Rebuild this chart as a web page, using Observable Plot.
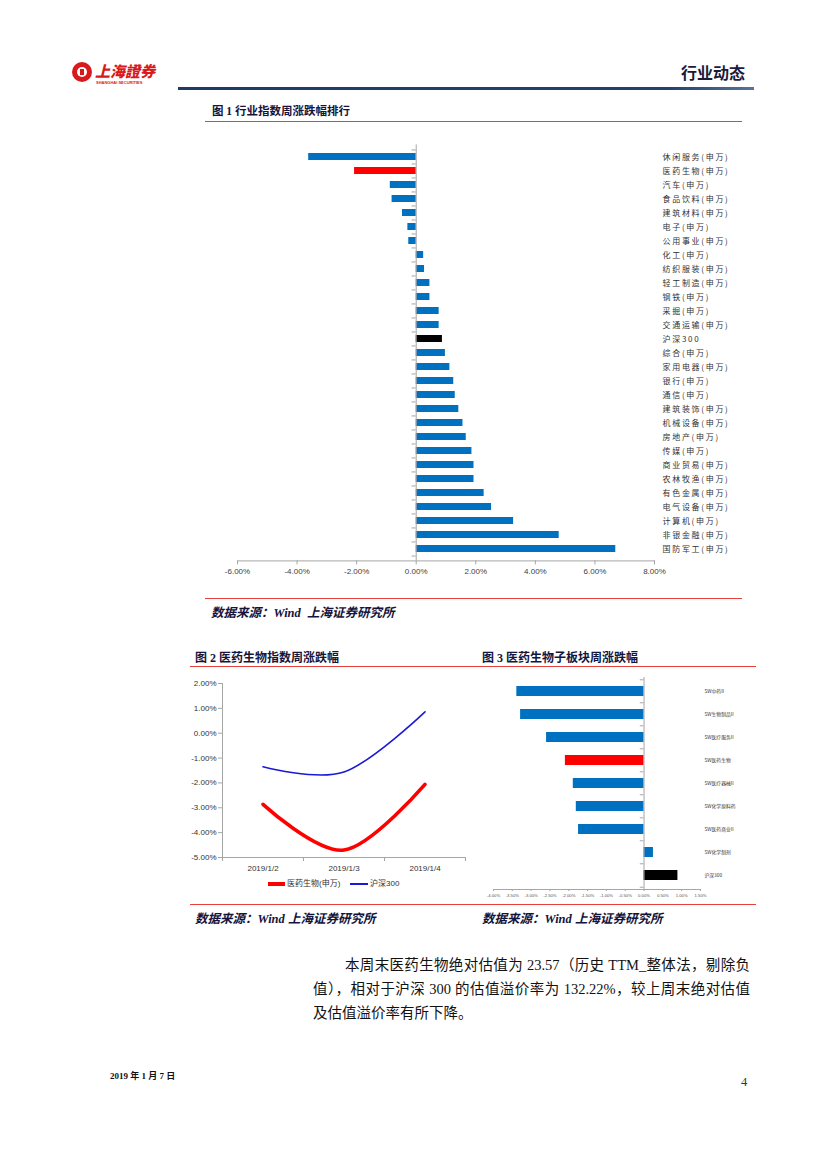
<!DOCTYPE html>
<html><head><meta charset="utf-8">
<script src="https://cdn.jsdelivr.net/npm/d3@7"></script>
<script src="https://cdn.jsdelivr.net/npm/@observablehq/plot@0.6"></script>
<style>
body{margin:0;background:#fff;}
#page{position:relative;width:827px;height:1169px;overflow:hidden;background:#fff;font-family:"Liberation Serif","Noto Sans CJK SC",serif;}
.abs{position:absolute;}
.hline{position:absolute;height:1px;background:#e8413c;}
.ftitle{position:absolute;font-family:"Liberation Serif","Noto Sans CJK SC",serif;font-weight:bold;color:#14143c;white-space:nowrap;}
.src{position:absolute;font-family:"Liberation Serif","Noto Sans CJK SC",serif;font-weight:bold;font-style:italic;color:#14143c;font-size:12.5px;white-space:nowrap;}
.para{position:absolute;left:313px;width:437px;font-size:14.5px;line-height:24px;color:#111;font-family:"Liberation Serif","Noto Sans CJK SC",serif;}
.para div{white-space:nowrap;text-align:justify;text-align-last:justify;}
.legend{position:absolute;font-family:"Liberation Sans","Noto Sans CJK SC",sans-serif;font-size:8px;line-height:10px;color:#333;white-space:nowrap;}
svg{overflow:visible;}
</style></head>
<body><div id="page">
  <!-- header -->
  <div class="abs" style="left:72px;top:62px;width:20px;height:20px;border-radius:50%;background:#d9191c;"></div>
  <div class="abs" style="left:77px;top:67px;width:10px;height:10px;border-radius:50%;background:#fff;"></div>
  <div class="abs" style="left:80px;top:69px;width:4px;height:6px;background:#d9191c;"></div>
  <div class="abs" style="left:95px;top:63px;font-family:'Noto Sans CJK SC',sans-serif;font-weight:900;font-size:15px;line-height:16px;color:#d9191c;font-style:italic;white-space:nowrap;">上海證券</div>
  <div class="abs" style="left:96px;top:81px;font-family:'Liberation Sans',sans-serif;font-weight:bold;font-size:4px;line-height:4px;color:#d9191c;white-space:nowrap;">SHANGHAI SECURITIES</div>
  <div class="abs" style="left:681px;top:60px;font-family:'Noto Sans CJK SC',sans-serif;font-weight:bold;font-size:16px;color:#1a1a3a;white-space:nowrap;">行业动态</div>
  <div class="abs" style="left:178px;top:87px;width:576px;height:3px;background:linear-gradient(90deg,#1f3a68,#23416f 85%,#5a7398);"></div>

  <!-- figure 1 -->
  <div class="ftitle" style="left:212px;top:102px;font-size:11.5px;">图 1 行业指数周涨跌幅排行</div>
  <div class="hline" style="left:205px;top:121px;width:537px;"></div>
  <div id="fig1" class="abs" style="left:200px;top:140px;"></div>
  <div class="hline" style="left:205px;top:598px;width:537px;"></div>
  <div class="src" style="left:211px;top:602px;">数据来源：Wind&nbsp; 上海证券研究所</div>

  <!-- figure 2 & 3 -->
  <div class="ftitle" style="left:195px;top:648px;font-size:12px;">图 2 医药生物指数周涨跌幅</div>
  <div class="ftitle" style="left:482px;top:648px;font-size:12px;">图 3 医药生物子板块周涨跌幅</div>
  <div class="hline" style="left:190px;top:666px;width:566px;"></div>
  <div id="fig2" class="abs" style="left:190px;top:676px;"></div>
  <div id="fig3" class="abs" style="left:470px;top:670px;"></div>
  <div class="abs" style="left:268px;top:882px;width:17px;height:4px;background:#ff0000;"></div>
  <div class="legend" style="left:287px;top:879px;" id="leg1"></div>
  <div class="abs" style="left:350px;top:883px;width:18px;height:1.5px;background:#1a1ad6;"></div>
  <div class="legend" style="left:370px;top:879px;" id="leg2"></div>
  <div class="hline" style="left:190px;top:904px;width:566px;"></div>
  <div class="src" style="left:195px;top:908px;">数据来源：Wind 上海证券研究所</div>
  <div class="src" style="left:482px;top:908px;">数据来源：Wind 上海证券研究所</div>

  <!-- paragraph -->
  <div class="para" style="top:953px;">
    <div style="padding-left:32px;">本周末医药生物绝对估值为 23.57（历史 TTM_整体法，剔除负</div>
    <div>值），相对于沪深 300 的估值溢价率为 132.22%，较上周末绝对估值</div>
    <div style="text-align:left;text-align-last:left;">及估值溢价率有所下降。</div>
  </div>

  <!-- footer -->
  <div class="abs" style="left:110px;top:1069px;font-family:'Liberation Serif','Noto Sans CJK SC',serif;font-weight:bold;font-size:9px;color:#111;white-space:nowrap;">2019 年 1 月 7 日</div>
  <div class="abs" style="left:741px;top:1075px;font-family:'Liberation Serif',serif;font-size:12.5px;color:#333;">4</div>
</div>
<script>
// ---------- data ----------
const industries = ["休闲服务(申万)","医药生物(申万)","汽车(申万)","食品饮料(申万)","建筑材料(申万)","电子(申万)","公用事业(申万)","化工(申万)","纺织服装(申万)","轻工制造(申万)","钢铁(申万)","采掘(申万)","交通运输(申万)","沪深300","综合(申万)","家用电器(申万)","银行(申万)","通信(申万)","建筑装饰(申万)","机械设备(申万)","房地产(申万)","传媒(申万)","商业贸易(申万)","农林牧渔(申万)","有色金属(申万)","电气设备(申万)","计算机(申万)","非银金融(申万)","国防军工(申万)"];
const industryChange = [-3.61,-2.07,-0.87,-0.81,-0.46,-0.28,-0.25,0.25,0.28,0.46,0.46,0.77,0.77,0.88,0.98,1.13,1.26,1.31,1.43,1.57,1.68,1.87,1.94,1.94,2.28,2.53,3.27,4.80,6.70];
const fig1Ticks = [-6,-4,-2,0,2,4,6,8];

const dates = ["2019/1/2","2019/1/3","2019/1/4"];
const pharmaSeries = [-2.86,-4.70,-2.06];
const hs300Series = [-1.35,-1.56,0.86];
const seriesNames = ["医药生物(申万)","沪深300"];
const fig2Ticks = [-5,-4,-3,-2,-1,0,1,2];

const subSectors = ["SW中药II","SW生物制品II","SW医疗服务II","SW医药生物","SW医疗器械II","SW化学原料药","SW医药商业II","SW化学制剂","沪深300"];
const subChange = [-3.38,-3.28,-2.59,-2.09,-1.88,-1.80,-1.74,0.25,0.90];
const fig3Ticks = [-4,-3.5,-3,-2.5,-2,-1.5,-1,-0.5,0,0.5,1,1.5];

const BLUE = "#0070c0", RED = "#ff0000", BLACK = "#000000", AXIS = "#a6a6a6";
const colorOf = n => (n.indexOf("医药生物") >= 0 ? RED : n === "沪深300" ? BLACK : BLUE);
const pct = d => d.toFixed(2) + "%";

// ---------- figure 1 ----------
{
  const rows = industries.map((n, i) => ({name: n, v: industryChange[i]}));
  const H = 440, mT = 4.4, mB = 19.6;
  const step = (H - mT - mB) / (industries.length + 0.5);
  const fig = Plot.plot({
    width: 542, height: H,
    marginLeft: 37, marginRight: 88, marginTop: mT, marginBottom: mB,
    style: {color: "#404040", background: "transparent", fontFamily: "'Liberation Sans','Noto Sans CJK SC',sans-serif"},
    x: {domain: [-6, 8]},
    y: {domain: industries, paddingInner: 0.5, paddingOuter: 0.5},
    marks: [
      Plot.barX(rows, {x: "v", y: "name", fill: d => colorOf(d.name)}),
      Plot.ruleX([0], {stroke: AXIS}),
      Plot.ruleY(industries, {y: d => d, x1: -0.14, x2: 0, dy: -step / 2, stroke: AXIS}),
      Plot.ruleY(industries.slice(-1), {y: d => d, x1: -0.14, x2: 0, dy: step / 2, stroke: AXIS}),
      Plot.frame({anchor: "bottom", stroke: AXIS}),
      Plot.axisX({ticks: fig1Ticks, tickFormat: pct, tickSize: 4, tickPadding: 3, stroke: AXIS, fill: "#404040", fontSize: 8, label: null}),
      Plot.axisY({anchor: "right", tickSize: 0, tickPadding: 8, fill: "#333", fontSize: 8, label: null, fontFamily: "'Noto Sans CJK SC',sans-serif"})
    ]
  });
  d3.select(fig).selectAll('g[aria-label="y-axis tick label"] text').style("letter-spacing", "1.7px");
  document.getElementById("fig1").appendChild(fig);
}

// ---------- figure 2 ----------
{
  const pRows = dates.map((d, i) => ({i, v: pharmaSeries[i]}));
  const hRows = dates.map((d, i) => ({i, v: hs300Series[i]}));
  const fig = Plot.plot({
    width: 280, height: 201,
    marginLeft: 32, marginRight: 5, marginTop: 7, marginBottom: 20,
    style: {color: "#333", background: "transparent", fontFamily: "'Liberation Sans',sans-serif"},
    x: {domain: [-0.5, 2.5]},
    y: {domain: [-5, 2]},
    marks: [
      Plot.ruleX([-0.5], {stroke: AXIS}),
      Plot.ruleY([-5], {stroke: AXIS}),
      Plot.axisY({ticks: fig2Ticks, tickFormat: pct, tickSize: 4, tickPadding: 2, stroke: AXIS, fill: "#333", fontSize: 8, label: null}),
      Plot.axisX({ticks: [-0.5, 0.5, 1.5, 2.5], tickFormat: () => "", tickSize: 4, stroke: AXIS, label: null}),
      Plot.axisX({ticks: [0, 1, 2], tickFormat: i => dates[i], tickSize: 0, tickPadding: 8, fill: "#333", fontSize: 8, label: null}),
      Plot.line(hRows, {x: "i", y: "v", stroke: "#1a1ad6", strokeWidth: 1.6, curve: "cardinal", tension: 0}),
      Plot.line(pRows, {x: "i", y: "v", stroke: RED, strokeWidth: 3.6, curve: "cardinal", tension: 0})
    ]
  });
  document.getElementById("fig2").appendChild(fig);
  document.getElementById("leg1").textContent = seriesNames[0];
  document.getElementById("leg2").textContent = seriesNames[1];
}

// ---------- figure 3 ----------
{
  const rows = subSectors.map((n, i) => ({name: n, v: subChange[i]}));
  const H = 233, mT = 7, mB = 14, pI = 0.55, pO = 0.3;
  const step = (H - mT - mB) / (subSectors.length - pI + 2 * pO);
  const fig = Plot.plot({
    width: 286, height: H,
    marginLeft: 23, marginRight: 56, marginTop: mT, marginBottom: mB,
    style: {color: "#404040", background: "transparent", fontFamily: "'Liberation Sans','Noto Sans CJK SC',sans-serif"},
    x: {domain: [-4, 1.5]},
    y: {domain: subSectors, paddingInner: pI, paddingOuter: pO},
    marks: [
      Plot.barX(rows, {x: "v", y: "name", fill: d => colorOf(d.name)}),
      Plot.ruleX([0], {stroke: AXIS}),
      Plot.ruleY(subSectors, {y: d => d, x1: -0.1, x2: 0, dy: -step / 2, stroke: AXIS}),
      Plot.ruleY(subSectors.slice(-1), {y: d => d, x1: -0.1, x2: 0, dy: step / 2, stroke: AXIS}),
      Plot.frame({anchor: "bottom", stroke: AXIS}),
      Plot.axisX({ticks: fig3Ticks, tickFormat: pct, tickSize: 2, tickPadding: 2.5, stroke: AXIS, fill: "#555", fontSize: 4.2, label: null}),
      Plot.axisY({anchor: "right", tickSize: 0, tickPadding: 4, fill: "#333", fontSize: 4.8, label: null, fontFamily: "'Noto Sans CJK SC',sans-serif"})
    ]
  });
  document.getElementById("fig3").appendChild(fig);
}
</script>
</body></html>
